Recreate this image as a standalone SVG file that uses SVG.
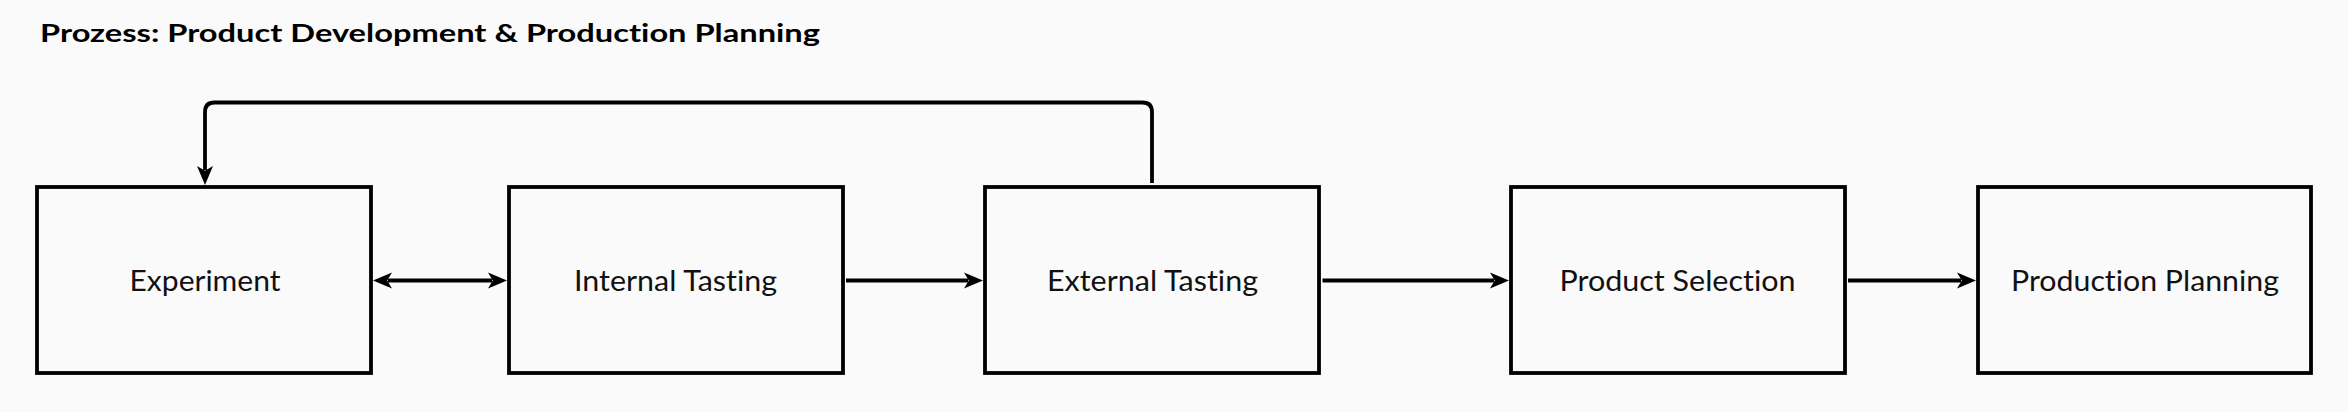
<svg xmlns="http://www.w3.org/2000/svg" width="2348" height="412" viewBox="0 0 2348 412">
  <defs>
    <style>
      text { font-variant-ligatures: none; font-feature-settings: "liga" 0, "clig" 0; }
      .box { fill: #fafafa; stroke: #000; stroke-width: 3.8; }
      .lbl { font-family: Lato, "Noto Sans", "Liberation Sans", sans-serif; font-size: 28.5px; fill: #111; text-anchor: middle; }
      .title { font-family: Lato, "Noto Sans", "Liberation Sans", sans-serif; font-size: 25.5px; font-weight: bold; fill: #000; }
      .edge { fill: none; stroke: #000; stroke-width: 3.8; }
    </style>
    <marker id="arr" viewBox="0 0 19 17" refX="4" refY="8.5" markerWidth="19" markerHeight="17" markerUnits="userSpaceOnUse" orient="auto-start-reverse">
      <path d="M19,8.5 L0,0.5 L4.8,8.5 L0,16.5 Z" fill="#000"/>
    </marker>
  </defs>
  <rect x="0" y="0" width="2348" height="412" fill="#fafafa"/>
  <text class="title" x="40" y="42" textLength="780" lengthAdjust="spacingAndGlyphs">Prozess: Product Development &amp; Production Planning</text>

  <g id="connectors">
    <path class="edge" d="M388,280.5 H492" marker-start="url(#arr)" marker-end="url(#arr)"/>
    <path class="edge" d="M846,280.5 H968" marker-end="url(#arr)"/>
    <path class="edge" d="M1322.5,280.5 H1494" marker-end="url(#arr)"/>
    <path class="edge" d="M1848,280.5 H1961" marker-end="url(#arr)"/>
    <path class="edge" d="M1152,183 V112 Q1152,102.5 1142.5,102.5 H214.5 Q205,102.5 205,112 V170" marker-end="url(#arr)"/>
  </g>

  <g id="experiment">
    <rect class="box" x="37" y="187" width="334" height="186"/>
    <text class="lbl" x="205" y="290.5" textLength="151" lengthAdjust="spacingAndGlyphs">Experiment</text>
  </g>
  <g id="internal-tasting">
    <rect class="box" x="509" y="187" width="334" height="186"/>
    <text class="lbl" x="675.5" y="290.5" textLength="203" lengthAdjust="spacingAndGlyphs">Internal Tasting</text>
  </g>
  <g id="external-tasting">
    <rect class="box" x="985" y="187" width="334" height="186"/>
    <text class="lbl" x="1152.5" y="290.5" textLength="211" lengthAdjust="spacingAndGlyphs">External Tasting</text>
  </g>
  <g id="product-selection">
    <rect class="box" x="1511" y="187" width="334" height="186"/>
    <text class="lbl" x="1677.5" y="290.5" textLength="236" lengthAdjust="spacingAndGlyphs">Product Selection</text>
  </g>
  <g id="production-planning">
    <rect class="box" x="1978" y="187" width="333" height="186"/>
    <text class="lbl" x="2145" y="290.5" textLength="268" lengthAdjust="spacingAndGlyphs">Production Planning</text>
  </g>
</svg>
